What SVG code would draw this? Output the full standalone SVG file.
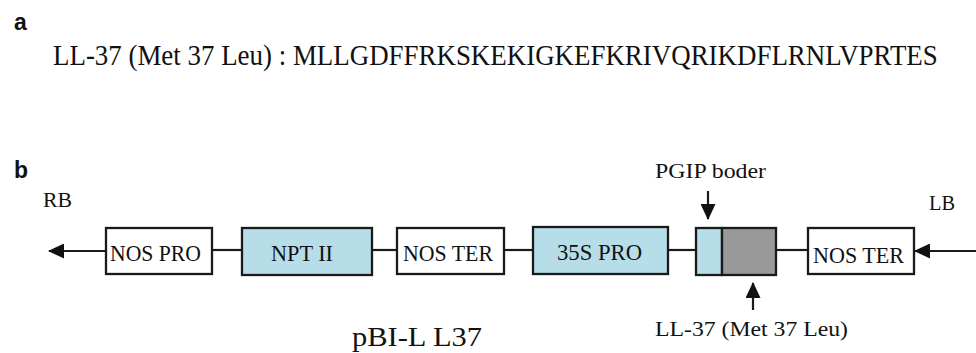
<svg xmlns="http://www.w3.org/2000/svg" width="976" height="353" viewBox="0 0 976 353">
<defs>
<style>
.panel{font-family:"Liberation Sans",Arial,sans-serif;font-weight:bold;font-size:23px;fill:#111}
.t{font-family:"Liberation Serif","DejaVu Serif",serif;fill:#111}
.box{stroke:#1a1a1a;stroke-width:2.3}
.w{fill:#ffffff}
.c{fill:#b7dee8}
.g{fill:#999999}
.ln{stroke:#1a1a1a;stroke-width:2.2;fill:none}
</style>
<marker id="ah" markerUnits="userSpaceOnUse" markerWidth="16" markerHeight="15" refX="15" refY="7.5" orient="auto">
<path d="M0,0 L16,7.5 L0,15 z" fill="#111"/>
</marker>
</defs>
<rect width="976" height="353" fill="#ffffff"/>
<text class="panel" x="14" y="30">a</text>
<text class="t" transform="translate(53,65) scale(0.83,1)" x="0" y="0" font-size="30" textLength="1066" lengthAdjust="spacingAndGlyphs">LL-37 (Met 37 Leu) : MLLGDFFRKSKEKIGKEFKRIVQRIKDFLRNLVPRTES</text>
<text class="panel" x="14" y="178">b</text>
<text class="t" x="43" y="207" font-size="21" textLength="29" lengthAdjust="spacingAndGlyphs">RB</text>
<text class="t" x="929" y="210" font-size="21" textLength="26" lengthAdjust="spacingAndGlyphs">LB</text>
<g id="connectors">
<line class="ln" x1="106" y1="251" x2="49" y2="251" marker-end="url(#ah)"/>
<line class="ln" x1="212" y1="250" x2="242" y2="250"/>
<line class="ln" x1="372" y1="250" x2="397" y2="250"/>
<line class="ln" x1="504" y1="250" x2="533" y2="250"/>
<line class="ln" x1="668" y1="250" x2="696" y2="250"/>
<line class="ln" x1="776" y1="250" x2="808" y2="250"/>
<line class="ln" x1="976" y1="251" x2="915" y2="251" marker-end="url(#ah)"/>
<line class="ln" x1="708" y1="191" x2="708" y2="219" marker-end="url(#ah)"/>
<line class="ln" x1="753" y1="310" x2="753" y2="283" marker-end="url(#ah)"/>
</g>
<g id="nos-pro">
<rect class="box w" x="106" y="228" width="106" height="46"/>
<text class="t" x="110" y="261" font-size="24" textLength="91" lengthAdjust="spacingAndGlyphs">NOS PRO</text>
</g>
<g id="npt-ii">
<rect class="box c" x="242" y="228" width="130" height="47"/>
<text class="t" x="271" y="261" font-size="24" textLength="62" lengthAdjust="spacingAndGlyphs">NPT II</text>
</g>
<g id="nos-ter-1">
<rect class="box w" x="397" y="228" width="107" height="46"/>
<text class="t" x="403" y="261" font-size="24" textLength="90" lengthAdjust="spacingAndGlyphs">NOS TER</text>
</g>
<g id="p35s-pro">
<rect class="box c" x="533" y="227" width="135" height="47"/>
<text class="t" x="557" y="260" font-size="24" textLength="85" lengthAdjust="spacingAndGlyphs">35S PRO</text>
</g>
<g id="pgip">
<rect class="box c" x="696" y="228" width="26" height="47"/>
</g>
<g id="ll37">
<rect class="box g" x="722" y="228" width="54" height="47"/>
</g>
<g id="nos-ter-2">
<rect class="box w" x="808" y="228" width="106" height="46"/>
<text class="t" x="813" y="263" font-size="24" textLength="91" lengthAdjust="spacingAndGlyphs">NOS TER</text>
</g>
<text class="t" x="655" y="178" font-size="20" textLength="111" lengthAdjust="spacingAndGlyphs">PGIP boder</text>
<text class="t" x="655" y="336" font-size="22" textLength="193" lengthAdjust="spacingAndGlyphs">LL-37 (Met 37 Leu)</text>
<text class="t" x="352" y="346" font-size="28" textLength="130" lengthAdjust="spacingAndGlyphs">pBI-L L37</text>
</svg>
